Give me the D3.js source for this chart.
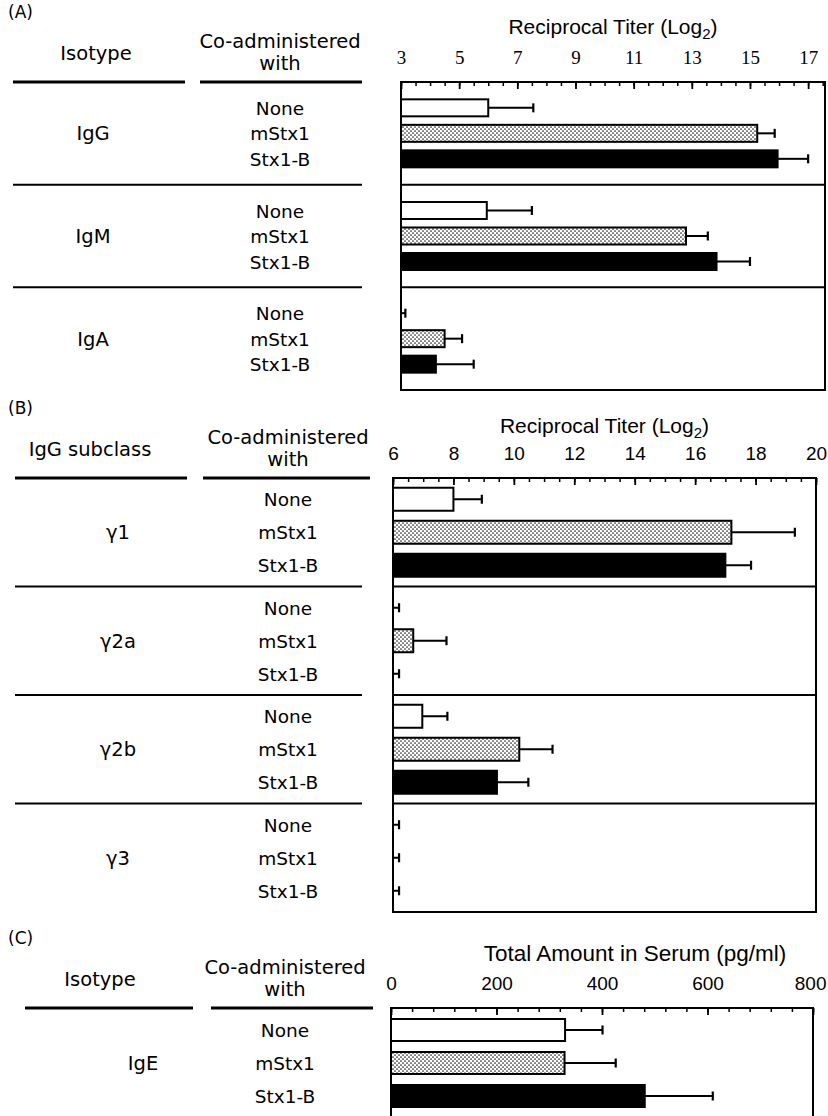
<!DOCTYPE html>
<html>
<head>
<meta charset="utf-8">
<script src="https://cdn.jsdelivr.net/npm/d3@7"></script>
<style>
  body { margin: 0; background: #fff; }
  svg { display: block; }
</style>
</head>
<body>
<script>
// ---------- DATA ----------
const rowLabels = ["None", "mStx1", "Stx1-B"];

const groupsA = ["IgG", "IgM", "IgA"];
const valuesA = [[6.0, 15.25, 15.95], [5.95, 12.8, 13.85], [3.0, 4.5, 4.2]];
const sdA     = [[1.55, 0.6, 1.05], [1.55, 0.75, 1.15], [0.15, 0.6, 1.3]];
const ticksA  = [3, 5, 7, 9, 11, 13, 15, 17];

const groupsB = ["γ1", "γ2a", "γ2b", "γ3"];
const valuesB = [[8.0, 17.2, 17.0], [6.0, 6.67, 6.0], [6.97, 10.18, 9.44], [6.0, 6.0, 6.0]];
const sdB     = [[0.94, 2.1, 0.85], [0.2, 1.1, 0.2], [0.83, 1.1, 1.04], [0.2, 0.2, 0.2]];
const ticksB  = [6, 8, 10, 12, 14, 16, 18, 20];

const groupsC = ["IgE"];
const valuesC = [[330, 329, 481]];
const sdC     = [[71, 97, 129]];
const ticksC  = [0, 200, 400, 600, 800];

// ---------- DRAW ----------
const W = 828, H = 1116;
const svg = d3.select("body").append("svg").attr("width", W).attr("height", H);

const defs = svg.append("defs");
const pat = defs.append("pattern").attr("id", "stip").attr("width", 4).attr("height", 4)
  .attr("patternUnits", "userSpaceOnUse");
pat.append("rect").attr("width", 4).attr("height", 4).attr("fill", "#fff");
pat.append("circle").attr("cx", 1).attr("cy", 1).attr("r", 0.85).attr("fill", "#222");
pat.append("circle").attr("cx", 3).attr("cy", 3).attr("r", 0.85).attr("fill", "#222");

const fills = ["#fff", "url(#stip)", "#000"];
const SANS = "'DejaVu Sans', sans-serif";
const HEL = "'Liberation Sans', Arial, sans-serif";
const SERIF = "'Liberation Serif', 'Times New Roman', serif";

function drawPanel(c) {
  const g = svg.append("g");
  const x = d3.scaleLinear().domain(c.domain).range(c.range);
  const R = c.top;
  const n = c.groups.length;
  const gh = (c.bottom - c.top) / n;

  // panel letter
  g.append("text").attr("x", 8).attr("y", R - 64).text(c.letter)
    .attr("font-family", SANS).attr("font-size", 17);

  // column headers
  g.append("text").attr("x", c.groupHeaderX).attr("y", R - 22).attr("text-anchor", "middle")
    .attr("font-family", SANS).attr("font-size", 19.5).text(c.groupHeader);
  g.append("text").attr("x", c.rowLabelX).attr("y", R - 34).attr("text-anchor", "middle")
    .attr("font-family", SANS).attr("font-size", 19.5).text("Co-administered");
  g.append("text").attr("x", c.rowLabelX).attr("y", R - 12).attr("text-anchor", "middle")
    .attr("font-family", SANS).attr("font-size", 19.5).text("with");

  // header rules
  g.append("line").attr("x1", c.leftRule[0]).attr("x2", c.leftRule[1]).attr("y1", R).attr("y2", R)
    .attr("stroke", "#000").attr("stroke-width", 3);
  g.append("line").attr("x1", c.rightRule[0]).attr("x2", c.rightRule[1]).attr("y1", R).attr("y2", R)
    .attr("stroke", "#000").attr("stroke-width", 3);

  // title
  const t = g.append("text").attr("x", (c.range[0] + c.range[1]) / 2 + c.titleShift).attr("y", R - c.titleOffset)
    .attr("text-anchor", "middle").attr("font-family", HEL).attr("font-size", c.titleSize);
  t.append("tspan").text(c.title);
  if (c.sub) {
    t.append("tspan").attr("font-size", 15).attr("dy", 5).text(c.sub);
    t.append("tspan").attr("dy", -5).text(")");
  }

  // axis ticks (inside the box, pointing down)
  const minor = d3.range(c.domain[0], c.domain[1] + 1e-9, c.minorStep);
  g.append("g").attr("transform", `translate(0,${R})`)
    .call(d3.axisTop(x).tickValues(minor).tickSize(-4).tickFormat(""))
    .call(s => s.select(".domain").remove())
    .call(s => s.selectAll("line").attr("stroke-width", 1.5));
  const ax = g.append("g").attr("transform", `translate(0,${R})`)
    .call(d3.axisTop(x).tickValues(c.ticks).tickSize(-7).tickPadding(18).tickFormat(d3.format("d")))
    .call(s => s.select(".domain").remove());
  ax.selectAll("line").attr("stroke-width", 1.8);
  ax.selectAll("text").attr("font-family", c.tickFont).attr("font-size", c.tickSize).attr("fill", "#000");
  if (c.lastEnd) {
    ax.selectAll("text").filter((d, i, nodes) => i === nodes.length - 1)
      .attr("text-anchor", "end").attr("dx", 13);
  }

  // box
  g.append("rect").attr("x", c.range[0]).attr("y", c.top)
    .attr("width", c.range[1] - c.range[0]).attr("height", c.bottom - c.top)
    .attr("fill", "none").attr("stroke", "#000").attr("stroke-width", 2);

  const y0 = c.domain[0];
  c.groups.forEach((grp, i) => {
    const gy = c.top + i * gh;
    const cy = gy + gh / 2;
    if (i > 0) {
      g.append("line").attr("x1", c.sepX[0]).attr("x2", c.sepX[1]).attr("y1", gy).attr("y2", gy)
        .attr("stroke", "#000").attr("stroke-width", 2);
      g.append("line").attr("x1", c.range[0]).attr("x2", c.range[1]).attr("y1", gy).attr("y2", gy)
        .attr("stroke", "#000").attr("stroke-width", 2);
    }
    g.append("text").attr("x", c.groupLabelX).attr("y", cy + 7).attr("text-anchor", "middle")
      .attr("font-family", SANS).attr("font-size", 19.5).text(grp);

    rowLabels.forEach((lab, j) => {
      const ry = cy + (j - 1) * c.rowSpacing;
      g.append("text").attr("x", c.rowLabelX).attr("y", ry + 7).attr("text-anchor", "middle")
        .attr("font-family", SANS).attr("font-size", 18.5).text(lab);
      const v = c.values[i][j], sd = c.sds[i][j];
      const xe = x(v + sd);
      // error bar
      g.append("line").attr("x1", x(v)).attr("x2", xe).attr("y1", ry).attr("y2", ry)
        .attr("stroke", "#000").attr("stroke-width", 2);
      g.append("line").attr("x1", xe).attr("x2", xe).attr("y1", ry - 4.5).attr("y2", ry + 4.5)
        .attr("stroke", "#000").attr("stroke-width", 2.2);
      if (v > y0) {
        g.append("rect").attr("x", x(y0)).attr("y", ry - c.barH / 2)
          .attr("width", x(v) - x(y0)).attr("height", c.barH)
          .attr("fill", fills[j]).attr("stroke", "#000").attr("stroke-width", 2);
      }
    });
  });
}

drawPanel({
  letter: "(A)", groupHeader: "Isotype", groupHeaderX: 96,
  title: "Reciprocal Titer (Log", sub: "2", titleShift: 0, titleOffset: 48, titleSize: 21,
  domain: [3, 17.58], range: [401, 825], top: 82, bottom: 390,
  groups: groupsA, values: valuesA, sds: sdA, ticks: ticksA, minorStep: 0.5,
  tickFont: SERIF, tickSize: 19, lastEnd: false,
  rowSpacing: 25.5, barH: 17, groupLabelX: 93, rowLabelX: 280,
  leftRule: [13, 185], rightRule: [200, 362], sepX: [13, 362]
});

drawPanel({
  letter: "(B)", groupHeader: "IgG subclass", groupHeaderX: 90,
  title: "Reciprocal Titer (Log", sub: "2", titleShift: 0, titleOffset: 45, titleSize: 21,
  domain: [6, 20], range: [393, 816], top: 478, bottom: 912,
  groups: groupsB, values: valuesB, sds: sdB, ticks: ticksB, minorStep: 0.5,
  tickFont: HEL, tickSize: 19, lastEnd: false,
  rowSpacing: 33, barH: 23, groupLabelX: 118, rowLabelX: 288,
  leftRule: [15, 187], rightRule: [203, 370], sepX: [15, 362]
});

drawPanel({
  letter: "(C)", groupHeader: "Isotype", groupHeaderX: 100,
  title: "Total Amount in Serum (pg/ml)", sub: null, titleShift: 33, titleOffset: 47, titleSize: 22.5,
  domain: [0, 800], range: [391, 813], top: 1008, bottom: 1118,
  groups: groupsC, values: valuesC, sds: sdC, ticks: ticksC, minorStep: 40,
  tickFont: HEL, tickSize: 19, lastEnd: true,
  rowSpacing: 33, barH: 22, groupLabelX: 143, rowLabelX: 285,
  leftRule: [25, 193], rightRule: [211, 373], sepX: [15, 362]
});
</script>
</body>
</html>
